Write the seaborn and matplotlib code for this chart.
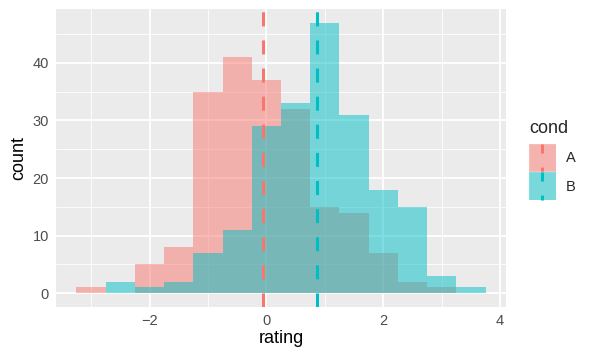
import numpy as np
import pandas as pd
import matplotlib
matplotlib.use("Agg")
import matplotlib.pyplot as plt
import seaborn as sns
from matplotlib.patches import Rectangle
from matplotlib.lines import Line2D
from matplotlib.legend_handler import HandlerBase

# binned counts (bin width 0.5)
bin_centers = [-3.0, -2.5, -2.0, -1.5, -1.0, -0.5, 0.0, 0.5, 1.0, 1.5, 2.0, 2.5, 3.0, 3.5]
counts_a = [1, 0, 5, 8, 35, 41, 37, 32, 15, 14, 7, 2, 1, 0]
counts_b = [0, 2, 1, 2, 7, 11, 29, 33, 47, 31, 18, 15, 3, 1]
conds = ["A", "B"]
cond_means = [-0.06, 0.87]
x_ticks = [-2, 0, 2, 4]
y_ticks = [0, 10, 20, 30, 40]

colors = {"A": "#F8766D", "B": "#00BFC4"}

df = pd.DataFrame({
    "rating": bin_centers * 2,
    "count": counts_a + counts_b,
    "cond": ["A"] * len(bin_centers) + ["B"] * len(bin_centers),
})

sns.set_style("white")
plt.rcParams["font.family"] = ["Liberation Sans", "DejaVu Sans"]

fig = plt.figure(figsize=(6, 3.6), dpi=100)
ax = fig.add_axes([56 / 600, 1 - 306.7 / 360, 450 / 600, 297.7 / 360])
ax.set_facecolor("#EBEBEB")

# minor + major grid like ggplot
for v in [-3, -1, 1, 3]:
    ax.axvline(v, color="white", lw=0.6, zorder=0)
for v in [5, 15, 25, 35, 45]:
    ax.axhline(v, color="white", lw=0.6, zorder=0)
for v in x_ticks:
    ax.axvline(v, color="white", lw=1.3, zorder=0)
for v in y_ticks:
    ax.axhline(v, color="white", lw=1.3, zorder=0)

# B drawn on top (seaborn draws hue levels in reverse)
sns.histplot(data=df, x="rating", weights="count", hue="cond",
             hue_order=["B", "A"], palette=colors, binwidth=0.5,
             binrange=(-3.25, 3.75), multiple="layer", alpha=0.5,
             edgecolor="none", linewidth=0, legend=False, ax=ax, zorder=2)

for c, m in zip(conds, cond_means):
    ax.axvline(m, color=colors[c], lw=2.2, linestyle=(0, (4.6, 4.6)), zorder=3)

ax.set_xlim(-3.6, 4.1)
ax.set_ylim(-2.35, 49.35)
ax.set_xticks(x_ticks)
ax.set_yticks(y_ticks)
for s in ax.spines.values():
    s.set_visible(False)
ax.tick_params(axis="both", length=3, width=0.8, color="#333333",
               labelcolor="#4D4D4D", labelsize=10.5, pad=2)
ax.set_xlabel("rating", fontsize=13, color="black", labelpad=2)
ax.set_ylabel("count", fontsize=13, color="black", labelpad=4)


class KeyHandler(HandlerBase):
    def create_artists(self, legend, orig_handle, xdescent, ydescent,
                       width, height, fontsize, trans):
        col = orig_handle.get_color()
        x0, y0 = -xdescent, -ydescent
        bg = Rectangle((x0, y0), width, height, facecolor="#F2F2F2",
                       edgecolor="white", lw=1, transform=trans)
        fill = Rectangle((x0, y0), width, height, facecolor=col, alpha=0.5,
                         edgecolor="none", transform=trans)
        ln = Line2D([x0 + width / 2] * 2, [y0, y0 + height], color=col,
                    lw=2.2, linestyle=(3, (4.6, 4.6)), transform=trans)
        return [bg, fill, ln]


handles = [Line2D([], [], color=colors[c]) for c in conds]
leg = fig.legend(handles, conds, title="cond", loc="upper left",
                 bbox_to_anchor=(529 / 600, 1 - 120 / 360),
                 frameon=False, fontsize=10.5, title_fontsize=13,
                 handler_map={Line2D: KeyHandler()},
                 handlelength=1.85, handleheight=2.6, labelspacing=0.0,
                 handletextpad=0.7, borderpad=0, borderaxespad=0)
leg._legend_box.align = "left"
leg._legend_box.sep = 5

fig.savefig("out.png", dpi=100)
